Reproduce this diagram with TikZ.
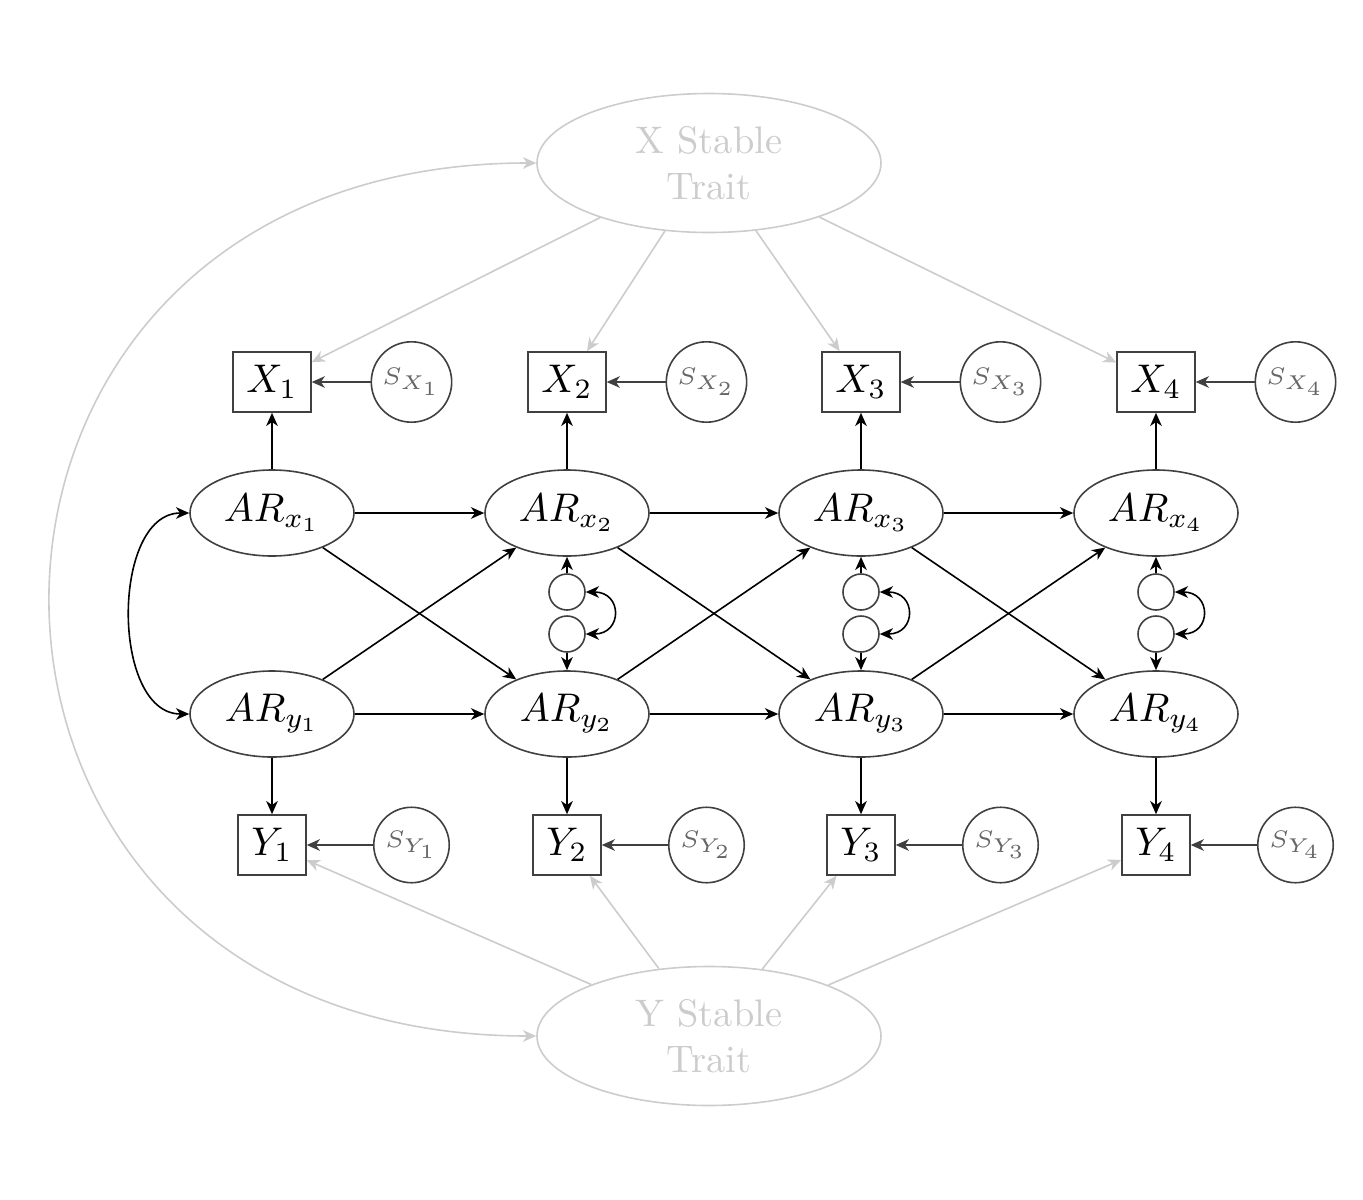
\documentclass[tikz,border=0pt]{standalone}
\usetikzlibrary{shapes.geometric,arrows.meta}
\begin{document}
\begin{tikzpicture}[x=0.25pt,y=-0.25pt,>={Stealth[length=3.3pt,width=2.9pt,inset=1pt]}]
\tikzset{
 trait/.style={ellipse,draw=black!20,text=black!20,minimum width=86pt,minimum height=34.75pt,inner sep=0pt,align=center,font=\fontsize{9.6}{11.4}\selectfont},
 obs/.style={rectangle,draw=black!75,text=black},
 res/.style={circle,draw=black!75,text=black!60,font=\fontsize{6.5}{7.5}\selectfont,inner sep=1.5pt},
 lat/.style={ellipse,draw=black!75,minimum width=41pt,minimum height=21.5pt,inner sep=0pt},
 dist/.style={circle,draw=black!75,minimum size=9pt,inner sep=0pt},
 gl/.style={draw=black!20,->},
 bl/.style={draw=black,->},
 dl/.style={draw=black!75,->}
}
\useasboundingbox (0,0) rectangle (1363,1200);
\node[trait] (xst) at (709,163) {X Stable\\Trait};
\node[trait] (yst) at (709,1036) {Y Stable\\Trait};
\foreach \i/\x in {1/272,2/567,3/861,4/1156} {
  \node[obs] (X\i) at (\x,382) {$X_\i$};
  \node[res] (SX\i) at (\x+139.5,382) {$S_{X_\i}$};
  \node[lat] (ARx\i) at (\x,513) {$AR_{x_\i}$};
  \node[lat] (ARy\i) at (\x,714) {$AR_{y_\i}$};
  \node[obs] (Y\i) at (\x,845) {$Y_\i$};
  \node[res] (SY\i) at (\x+139.5,845) {$S_{Y_\i}$};
}
\foreach \i/\x in {2/567,3/861,4/1156} {
  \node[dist] (ex\i) at (\x,592) {};
  \node[dist] (ey\i) at (\x,634) {};
  \draw[bl] (ex\i) -- (ARx\i);
  \draw[bl] (ey\i) -- (ARy\i);
  \draw[bl,<->] (ex\i.east) to[out=0,in=0,looseness=2.25] (ey\i.east);
}
\foreach \i in {1,...,4} {
  \draw[bl] (ARx\i) -- (X\i);
  \draw[bl] (ARy\i) -- (Y\i);
  \draw[dl] (SX\i) -- (X\i);
  \draw[dl] (SY\i) -- (Y\i);
  \draw[gl] (xst) -- (X\i);
  \draw[gl] (yst) -- (Y\i);
}
\foreach \i/\j in {1/2,2/3,3/4} {
  \draw[bl] (ARx\i) -- (ARx\j);
  \draw[bl] (ARy\i) -- (ARy\j);
  \draw[bl] (ARx\i) -- (ARy\j);
  \draw[bl] (ARy\i) -- (ARx\j);
}
\draw[bl,<->] (ARx1.west) to[out=180,in=180,looseness=1.0] (ARy1.west);
\draw[gl,<->] (xst.west) to[out=180,in=180,looseness=1.9] (yst.west);
\end{tikzpicture}
\end{document}
